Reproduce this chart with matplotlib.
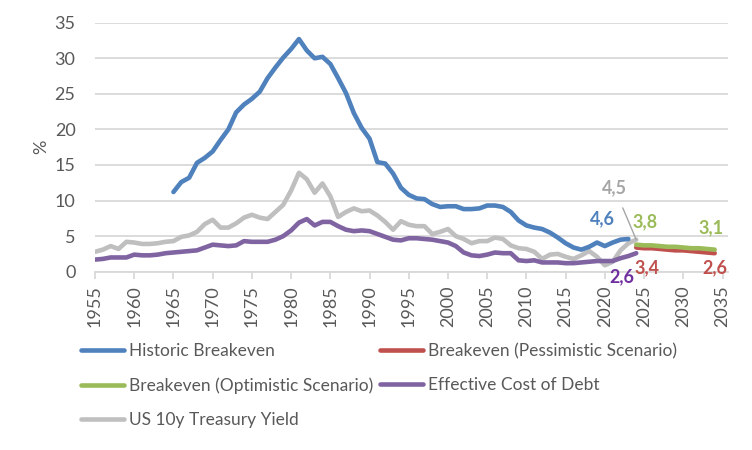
import matplotlib
matplotlib.use("Agg")
import matplotlib.pyplot as plt
from matplotlib.lines import Line2D

plt.rcParams["font.family"] = ["Lato", "DejaVu Sans"]

# ---- data ----
hist_years = list(range(1965, 2024))
hist_breakeven = [11.2, 12.6, 13.2, 15.3, 16.0, 16.9, 18.5, 20.0, 22.4, 23.5,
                  24.3, 25.3, 27.2, 28.7, 30.1, 31.3, 32.7, 31.1, 30.0, 30.2,
                  29.2, 27.2, 25.1, 22.3, 20.2, 18.7, 15.4, 15.2, 13.8, 11.8,
                  10.8, 10.3, 10.2, 9.5, 9.1, 9.2, 9.2, 8.8, 8.8, 8.9,
                  9.3, 9.3, 9.1, 8.4, 7.2, 6.5, 6.2, 6.0, 5.5, 4.8,
                  4.0, 3.4, 3.1, 3.5, 4.1, 3.6, 4.1, 4.5, 4.6]

long_years = list(range(1955, 2025))
treasury_10y = [2.8, 3.1, 3.6, 3.2, 4.2, 4.1, 3.9, 3.9, 4.0, 4.2,
                4.3, 4.9, 5.1, 5.6, 6.7, 7.3, 6.2, 6.2, 6.8, 7.6,
                8.0, 7.6, 7.4, 8.4, 9.4, 11.4, 13.9, 13.0, 11.1, 12.4,
                10.6, 7.7, 8.4, 8.9, 8.5, 8.6, 7.9, 7.0, 5.9, 7.1,
                6.6, 6.4, 6.4, 5.3, 5.6, 6.0, 5.0, 4.6, 4.0, 4.3,
                4.3, 4.8, 4.6, 3.7, 3.3, 3.2, 2.8, 1.8, 2.4, 2.5,
                2.1, 1.8, 2.3, 2.9, 2.1, 0.9, 1.4, 3.0, 4.0, 4.5]
cost_of_debt = [1.7, 1.8, 2.0, 2.0, 2.0, 2.4, 2.3, 2.3, 2.4, 2.6,
                2.7, 2.8, 2.9, 3.0, 3.4, 3.8, 3.7, 3.6, 3.7, 4.3,
                4.2, 4.2, 4.2, 4.5, 5.0, 5.8, 6.9, 7.4, 6.5, 7.0,
                7.0, 6.4, 5.9, 5.7, 5.8, 5.7, 5.3, 4.9, 4.5, 4.4,
                4.7, 4.7, 4.6, 4.5, 4.3, 4.1, 3.6, 2.7, 2.3, 2.2,
                2.4, 2.7, 2.6, 2.6, 1.6, 1.5, 1.6, 1.3, 1.3, 1.3,
                1.2, 1.2, 1.3, 1.4, 1.5, 1.5, 1.5, 1.9, 2.2, 2.6]

scen_years = list(range(2024, 2035))
optimistic = [3.8, 3.7, 3.7, 3.6, 3.5, 3.5, 3.4, 3.3, 3.3, 3.2, 3.1]
pessimistic = [3.4, 3.3, 3.3, 3.2, 3.1, 3.0, 3.0, 2.9, 2.8, 2.7, 2.6]

x_ticks = list(range(1955, 2040, 5))
y_ticks = list(range(0, 40, 5))

BLUE, RED, GREEN, PURPLE, GRAY = "#4F81BD", "#C0504D", "#9BBB59", "#8064A2", "#BFBFBF"
TXT = "#595959"
LW = 3.3

fig = plt.figure(figsize=(7.52, 4.5), dpi=100)
ax = fig.add_axes([95 / 752, 1 - 271.7 / 450, (728 - 95) / 752, 249 / 450])

ax.plot(long_years, treasury_10y, color=GRAY, lw=LW, solid_capstyle="round", zorder=3)
ax.plot(long_years, cost_of_debt, color=PURPLE, lw=LW, solid_capstyle="round", zorder=3)
ax.plot(hist_years, hist_breakeven, color=BLUE, lw=LW, solid_capstyle="round", zorder=4)
ax.plot(scen_years, pessimistic, color=RED, lw=LW, solid_capstyle="round", zorder=3)
ax.plot(scen_years, optimistic, color=GREEN, lw=LW, solid_capstyle="round", zorder=4)

ax.set_xlim(1955, 2035.7)
ax.set_ylim(0, 35)
ax.set_xticks(x_ticks)
ax.set_xticklabels([str(t) for t in x_ticks], rotation=90)
ax.set_yticks(y_ticks)
ax.grid(axis="y", color="#D9D9D9", lw=1.3)
ax.set_axisbelow(True)
for s in ("top", "right", "left"):
    ax.spines[s].set_visible(False)
ax.spines["bottom"].set_color("#D9D9D9")
ax.spines["bottom"].set_linewidth(1.3)
ax.tick_params(axis="x", length=5, width=1.3, color="#D9D9D9", labelsize=13, labelcolor=TXT, pad=5)
ax.tick_params(axis="y", length=0, labelsize=13, labelcolor=TXT, pad=14)
ax.set_ylabel("%", fontsize=13, color=TXT, labelpad=4)

# data labels at line ends
lab = dict(textcoords="offset pixels", ha="center", va="center", fontsize=13, fontweight="bold")
ax.annotate("4,6", (hist_years[-1], hist_breakeven[-1]), xytext=(-26, 20), color=BLUE, **lab)
ax.annotate("4,5", (long_years[-1], treasury_10y[-1]), xytext=(-22, 52), color="#A6A6A6",
            arrowprops=dict(arrowstyle="-", color="#A6A6A6", lw=1, shrinkA=7, shrinkB=0), **lab)
ax.annotate("2,6", (long_years[-1], cost_of_debt[-1]), xytext=(-14, -24), color="#7030A0", **lab)
ax.annotate("3,8", (scen_years[0], optimistic[0]), xytext=(9, 23), color=GREEN, **lab)
ax.annotate("3,1", (scen_years[-1], optimistic[-1]), xytext=(-4, 22), color=GREEN, **lab)
ax.annotate("3,4", (scen_years[0], pessimistic[0]), xytext=(11, -20), color=RED, **lab)
ax.annotate("2,6", (scen_years[-1], pessimistic[-1]), xytext=(0, -15), color=RED, **lab)

# legend: two columns placed side by side
def handle(c):
    return Line2D([], [], color=c, lw=LW, solid_capstyle="round")

leg_kw = dict(loc="upper left", frameon=False, fontsize=12.5, handlelength=2.5,
              handletextpad=0.24, labelspacing=1.05, borderpad=0, borderaxespad=0,
              labelcolor=TXT)
fig.legend([handle(BLUE), handle(GREEN), handle(GRAY)],
           ["Historic Breakeven", "Breakeven (Optimistic Scenario)", "US 10y Treasury Yield"],
           bbox_to_anchor=(81 / 752, 1 - 343 / 450), **leg_kw)
fig.legend([handle(RED), handle(PURPLE)],
           ["Breakeven (Pessimistic Scenario)", "Effective Cost of Debt"],
           bbox_to_anchor=(380 / 752, 1 - 343 / 450), **leg_kw)

fig.savefig("out.png", dpi=100)
